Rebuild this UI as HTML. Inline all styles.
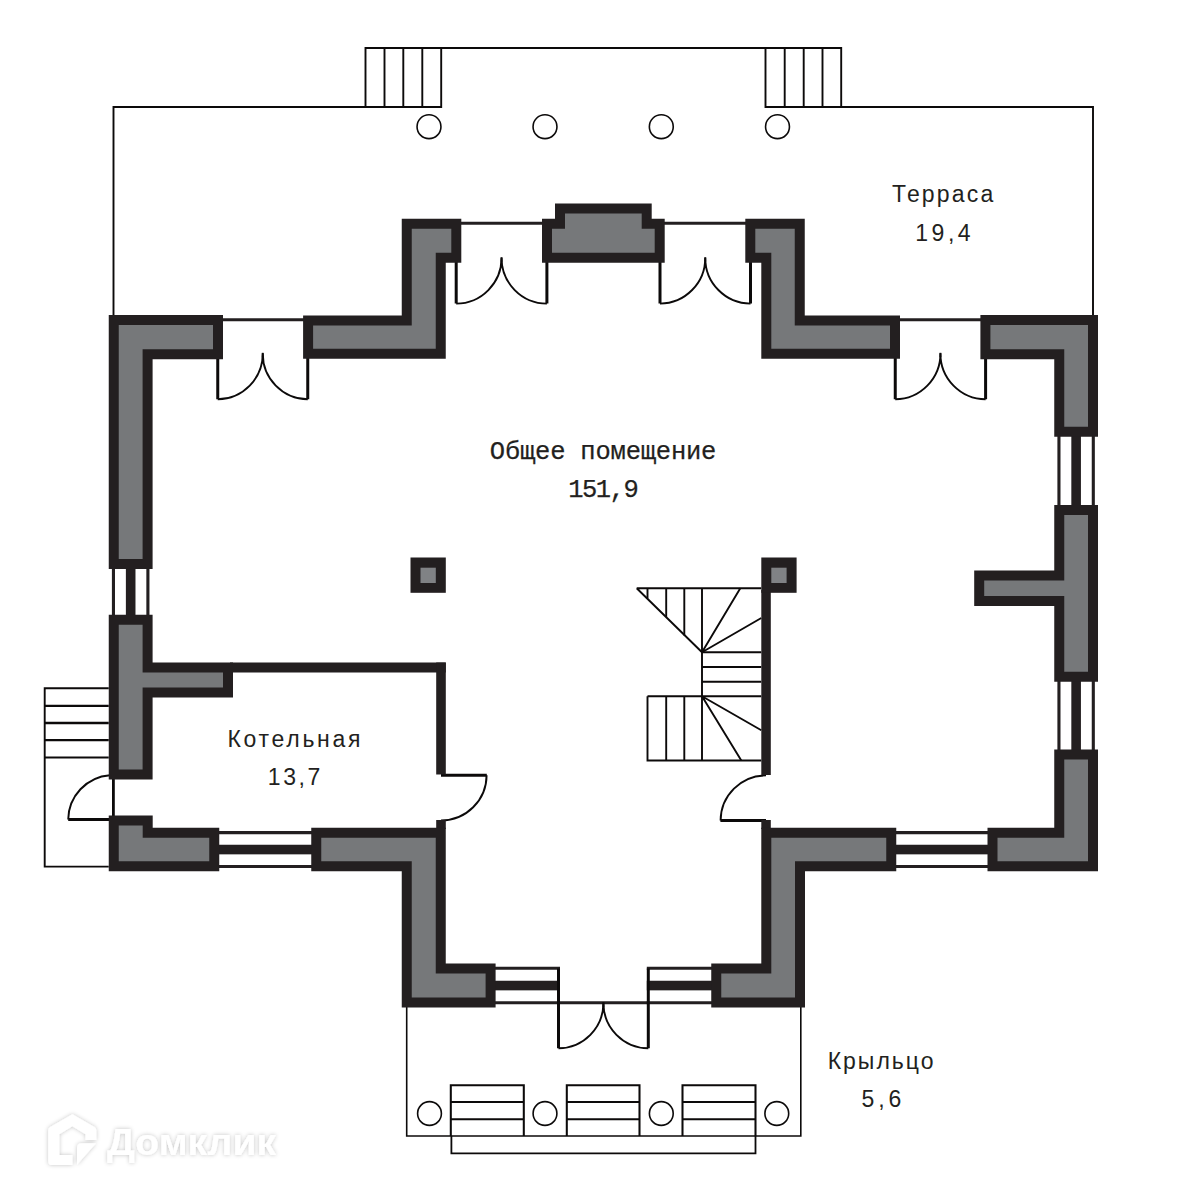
<!DOCTYPE html>
<html lang="ru"><head><meta charset="utf-8"><title>План этажа</title>
<style>html,body{margin:0;padding:0;background:#fff}body{width:1200px;height:1200px;overflow:hidden}svg{display:block}</style>
</head><body>
<svg width="1200" height="1200" viewBox="0 0 1200 1200">
<rect width="1200" height="1200" fill="#fff"/>
<g fill="none" stroke="#0c0a0a" stroke-width="1.9" stroke-linecap="butt" stroke-linejoin="miter">
<path d="M113.5 316V107H441.2V48M765.5 48V107H1093V316"/>
<path d="M365.5 107V48H841.2V107"/>
<path d="M384.5 48V107M403.3 48V107M422.3 48V107M784.7 48V107M803.7 48V107M822.5 48V107"/>
<circle cx="429" cy="126.7" r="11.95" stroke-width="1.6"/>
<circle cx="545" cy="126.7" r="11.95" stroke-width="1.6"/>
<circle cx="661.3" cy="126.7" r="11.95" stroke-width="1.6"/>
<circle cx="777.5" cy="126.7" r="11.95" stroke-width="1.6"/>
<path d="M406.7 1007V1136H800.8V1007" stroke-width="1.6"/>
<circle cx="429.5" cy="1113.5" r="11.9" stroke-width="1.6"/>
<circle cx="545" cy="1113.5" r="11.9" stroke-width="1.6"/>
<circle cx="661.3" cy="1113.5" r="11.9" stroke-width="1.6"/>
<circle cx="776.8" cy="1113.5" r="11.9" stroke-width="1.6"/>
<path d="M450.8 1136V1085.2H523.8V1136M450.8 1102H523.8M450.8 1119.2H523.8" stroke-width="2.05"/>
<path d="M566.8 1136V1085.2H639.5V1136M566.8 1102H639.5M566.8 1119.2H639.5" stroke-width="2.05"/>
<path d="M682.5 1136V1085.2H755.5V1136M682.5 1102H755.5M682.5 1119.2H755.5" stroke-width="2.05"/>
<path d="M451.4 1136V1153.3H755.5V1136" stroke-width="1.8"/>
<path d="M108.75 688.3H44.7V866.6H108.75M44.7 757.5H108.75"/>
</g>
<g fill="none" stroke="#0c0a0a" stroke-width="2.3">
<path d="M44.7 705.8H108.75M44.7 723H108.75M44.7 740.2H108.75"/>
</g>
<g fill="none" stroke="#0c0a0a" stroke-width="1.9">
<path d="M636.7 588.3H761.3M636.7 588.3L702 652.3"/>
<path d="M647.5 588.3V598.5M666.2 588.3V617M684.3 588.3V635.5M702 588.3V760.5"/>
<path d="M702 652.3L740.3 588.3M702 652.3L761.3 618"/>
<path d="M702 652.3H761.3M702 667H761.3M702 681.7H761.3M647.5 696.3H761.3"/>
<path d="M647.5 696.3V760.5H761.3M666.2 696.3V760.5M684.3 696.3V760.5"/>
<path d="M702 696.3L761.3 730.3M702 696.3L741.3 760.5"/>
</g>
<path d="M113.45 568V616M147.90 568V616" stroke="#231f20" stroke-width="3.1" fill="none"/>
<rect x="125.88" y="568" width="9.6" height="48.00" fill="#231f20"/>
<path d="M1058.95 435V506M1093.30 435V506" stroke="#231f20" stroke-width="3.1" fill="none"/>
<rect x="1071.33" y="435" width="9.6" height="71.00" fill="#231f20"/>
<path d="M1058.95 680V751M1093.30 680V751" stroke="#231f20" stroke-width="3.1" fill="none"/>
<rect x="1071.33" y="680" width="9.6" height="71.00" fill="#231f20"/>
<path d="M218 832.60H312M218 866.50H312" stroke="#231f20" stroke-width="3.1" fill="none"/>
<rect x="218" y="844.75" width="94.00" height="9.6" fill="#231f20"/>
<path d="M895 832.60H989M895 866.50H989" stroke="#231f20" stroke-width="3.1" fill="none"/>
<rect x="895" y="844.75" width="94.00" height="9.6" fill="#231f20"/>
<path d="M494 968.30H560M494 1002.80H560" stroke="#231f20" stroke-width="3.1" fill="none"/>
<rect x="494" y="980.75" width="66.00" height="9.6" fill="#231f20"/>
<path d="M646.8 968.30H712M646.8 1002.80H712" stroke="#231f20" stroke-width="3.1" fill="none"/>
<rect x="646.8" y="980.75" width="65.20" height="9.6" fill="#231f20"/>
<path d="M558 1002.8H649" stroke="#231f20" stroke-width="3.1" fill="none"/>
<path d="M217.75 355V399.3M307.75 355V399.3" stroke="#0c0a0a" stroke-width="3" fill="none"/>
<path d="M217.75 399.3A45.6 45.6 0 0 0 262.75 353.3M307.75 399.3A45.6 45.6 0 0 1 262.75 353.3" stroke="#0c0a0a" stroke-width="1.9" fill="none"/>
<path d="M262.75 352.8V357.3" stroke="#0c0a0a" stroke-width="1.9" fill="none"/>
<path d="M222 319.75H304" stroke="#231f20" stroke-width="3" fill="none"/>
<path d="M895.25 355V399.3M985.6 355V399.3" stroke="#0c0a0a" stroke-width="3" fill="none"/>
<path d="M895.25 399.3A45.6 45.6 0 0 0 940.425 353.3M985.6 399.3A45.6 45.6 0 0 1 940.425 353.3" stroke="#0c0a0a" stroke-width="1.9" fill="none"/>
<path d="M940.425 352.8V357.3" stroke="#0c0a0a" stroke-width="1.9" fill="none"/>
<path d="M899 319.75H981" stroke="#231f20" stroke-width="3" fill="none"/>
<path d="M456.2 260V303.6M546.9 260V303.6" stroke="#0c0a0a" stroke-width="3" fill="none"/>
<path d="M456.2 303.6A45.6 45.6 0 0 0 501.54999999999995 257.7M546.9 303.6A45.6 45.6 0 0 1 501.54999999999995 257.7" stroke="#0c0a0a" stroke-width="1.9" fill="none"/>
<path d="M501.54999999999995 257.2V261.7" stroke="#0c0a0a" stroke-width="1.9" fill="none"/>
<path d="M460 223.3H543" stroke="#231f20" stroke-width="3" fill="none"/>
<path d="M660 260V303.6M750.5 260V303.6" stroke="#0c0a0a" stroke-width="3" fill="none"/>
<path d="M660 303.6A45.6 45.6 0 0 0 705.25 257.7M750.5 303.6A45.6 45.6 0 0 1 705.25 257.7" stroke="#0c0a0a" stroke-width="1.9" fill="none"/>
<path d="M705.25 257.2V261.7" stroke="#0c0a0a" stroke-width="1.9" fill="none"/>
<path d="M664 223.3H746" stroke="#231f20" stroke-width="3" fill="none"/>
<path d="M558.5 968.5V1048.3M648.3 968.5V1048.3" stroke="#0c0a0a" stroke-width="3" fill="none"/>
<path d="M558.5 1048.3A45.3 45.3 0 0 0 603.4 1002.8M648.3 1048.3A45.3 45.3 0 0 1 603.4 1002.8" stroke="#0c0a0a" stroke-width="1.9" fill="none"/>
<path d="M603.4 1002.3V1006.8" stroke="#0c0a0a" stroke-width="1.9" fill="none"/>
<path d="M113.4 778V817" stroke="#0c0a0a" stroke-width="2.8" fill="none"/>
<path d="M68.2 819.6H110" stroke="#0c0a0a" stroke-width="3" fill="none"/>
<path d="M68.2 819.6A45 45 0 0 1 110 775.2" stroke="#0c0a0a" stroke-width="1.9" fill="none"/>
<path d="M441 775.2H486.8" stroke="#0c0a0a" stroke-width="3" fill="none"/>
<path d="M486.6 775.2A45.4 45.4 0 0 1 441 820.4" stroke="#0c0a0a" stroke-width="1.9" fill="none"/>
<path d="M720.4 820.6H766" stroke="#0c0a0a" stroke-width="3" fill="none"/>
<path d="M720.6 820.6A45.4 45.4 0 0 1 766 775.4" stroke="#0c0a0a" stroke-width="1.9" fill="none"/>
<g fill="#231f20">
<rect x="230" y="662.5" width="215.8" height="10"/>
<rect x="436.2" y="662.5" width="9.6" height="112"/>
<rect x="436.2" y="820" width="9.6" height="9"/>
<rect x="761.3" y="590" width="9.5" height="185"/>
<rect x="761.3" y="820" width="9.5" height="9"/>
</g>
<polygon points="108.75,315.00 223.00,315.00 223.00,359.25 152.60,359.25 152.60,569.00 108.75,569.00" fill="#231f20"/>
<polygon points="118.75,325.00 213.00,325.00 213.00,349.25 142.60,349.25 142.60,559.00 118.75,559.00" fill="#76787a"/>
<polygon points="108.75,614.80 152.60,614.80 152.60,662.50 233.00,662.50 233.00,697.50 152.60,697.50 152.60,779.50 108.75,779.50" fill="#231f20"/>
<polygon points="118.75,624.80 142.60,624.80 142.60,672.50 223.00,672.50 223.00,687.50 142.60,687.50 142.60,769.50 118.75,769.50" fill="#76787a"/>
<polygon points="108.75,815.40 152.70,815.40 152.70,827.80 219.25,827.80 219.25,871.30 108.75,871.30" fill="#231f20"/>
<polygon points="118.75,825.40 142.70,825.40 142.70,837.80 209.25,837.80 209.25,861.30 118.75,861.30" fill="#76787a"/>
<polygon points="303.10,315.40 401.75,315.40 401.75,218.75 461.30,218.75 461.30,262.80 445.75,262.80 445.75,358.75 303.10,358.75" fill="#231f20"/>
<polygon points="313.10,325.40 411.75,325.40 411.75,228.75 451.30,228.75 451.30,252.80 435.75,252.80 435.75,348.75 313.10,348.75" fill="#76787a"/>
<polygon points="542.00,218.75 555.00,218.75 555.00,203.50 651.70,203.50 651.70,218.75 664.70,218.75 664.70,262.80 542.00,262.80" fill="#231f20"/>
<polygon points="552.00,228.75 565.00,228.75 565.00,213.50 641.70,213.50 641.70,228.75 654.70,228.75 654.70,252.80 552.00,252.80" fill="#76787a"/>
<polygon points="745.30,218.75 804.75,218.75 804.75,315.40 900.00,315.40 900.00,358.75 761.30,358.75 761.30,262.80 745.30,262.80" fill="#231f20"/>
<polygon points="755.30,228.75 794.75,228.75 794.75,325.40 890.00,325.40 890.00,348.75 771.30,348.75 771.30,252.80 755.30,252.80" fill="#76787a"/>
<polygon points="980.40,315.00 1098.00,315.00 1098.00,436.80 1054.25,436.80 1054.25,359.25 980.40,359.25" fill="#231f20"/>
<polygon points="990.40,325.00 1088.00,325.00 1088.00,426.80 1064.25,426.80 1064.25,349.25 990.40,349.25" fill="#76787a"/>
<polygon points="1054.25,504.90 1098.00,504.90 1098.00,681.80 1054.25,681.80 1054.25,606.00 974.20,606.00 974.20,570.40 1054.25,570.40" fill="#231f20"/>
<polygon points="1064.25,514.90 1088.00,514.90 1088.00,671.80 1064.25,671.80 1064.25,596.00 984.20,596.00 984.20,580.40 1064.25,580.40" fill="#76787a"/>
<polygon points="1054.25,749.50 1098.00,749.50 1098.00,871.30 987.50,871.30 987.50,827.80 1054.25,827.80" fill="#231f20"/>
<polygon points="1064.25,759.50 1088.00,759.50 1088.00,861.30 997.50,861.30 997.50,837.80 1064.25,837.80" fill="#76787a"/>
<polygon points="311.25,827.80 445.75,827.80 445.75,963.50 495.60,963.50 495.60,1007.60 401.75,1007.60 401.75,871.30 311.25,871.30" fill="#231f20"/>
<polygon points="321.25,837.80 435.75,837.80 435.75,973.50 485.60,973.50 485.60,997.60 411.75,997.60 411.75,861.30 321.25,861.30" fill="#76787a"/>
<polygon points="761.30,827.80 896.25,827.80 896.25,871.30 805.00,871.30 805.00,1007.60 711.25,1007.60 711.25,963.50 761.30,963.50" fill="#231f20"/>
<polygon points="771.30,837.80 886.25,837.80 886.25,861.30 795.00,861.30 795.00,997.60 721.25,997.60 721.25,973.50 771.30,973.50" fill="#76787a"/>
<rect x="410.5" y="557.5" width="35.3" height="35.3" fill="#231f20"/>
<rect x="420.5" y="567.7" width="15.3" height="15.3" fill="#808285"/>
<rect x="761.3" y="557.5" width="35.3" height="35.3" fill="#231f20"/>
<rect x="771.3" y="567.7" width="15.3" height="15.3" fill="#808285"/>
<g font-family="'Liberation Sans', sans-serif" font-size="23" fill="#231f20" text-anchor="middle">
<text x="943.70" y="202.3" letter-spacing="2.17">Терраса</text>
<text x="944.70" y="240.5" letter-spacing="3.50">19,4</text>
<text x="603.00" y="458.6" letter-spacing="-0.21" font-family="'Liberation Mono', monospace" font-size="25.5" stroke="#231f20" stroke-width="0.25">Общее помещение</text>
<text x="602.70" y="496.9" letter-spacing="-1.50" font-family="'Liberation Mono', monospace" font-size="25.5" stroke="#231f20" stroke-width="0.25">151,9</text>
<text x="295.30" y="747.2" letter-spacing="2.72">Котельная</text>
<text x="295.40" y="784.6" letter-spacing="2.63">13,7</text>
<text x="881.60" y="1069.1" letter-spacing="2.00">Крыльцо</text>
<text x="883.40" y="1106.8" letter-spacing="4.00">5,6</text>
</g>
<g filter="url(#ws)" fill="#fff">
<path d="M72.4 1114.2L94.4 1126.9Q96.3 1128.1 96.3 1130.4V1140H85.5V1134.2L72.4 1126.3L59.3 1134.2V1154.9H72.4V1165.1H52.4Q48.2 1165.1 48.2 1160.9V1130.4Q48.2 1128.1 50.2 1126.9Z"/>
<path d="M77 1164.8V1148Q77 1143.2 81.6 1143.2H96Z"/>
<text x="107" y="1155" font-family="'Liberation Sans', sans-serif" font-weight="bold" font-size="36" textLength="169" lengthAdjust="spacingAndGlyphs">Домклик</text>
</g>
<defs><filter id="ws" x="-10%" y="-30%" width="120%" height="160%"><feDropShadow dx="0" dy="0" stdDeviation="2" flood-color="#000" flood-opacity="0.24"/></filter></defs>
</svg>
</body></html>
